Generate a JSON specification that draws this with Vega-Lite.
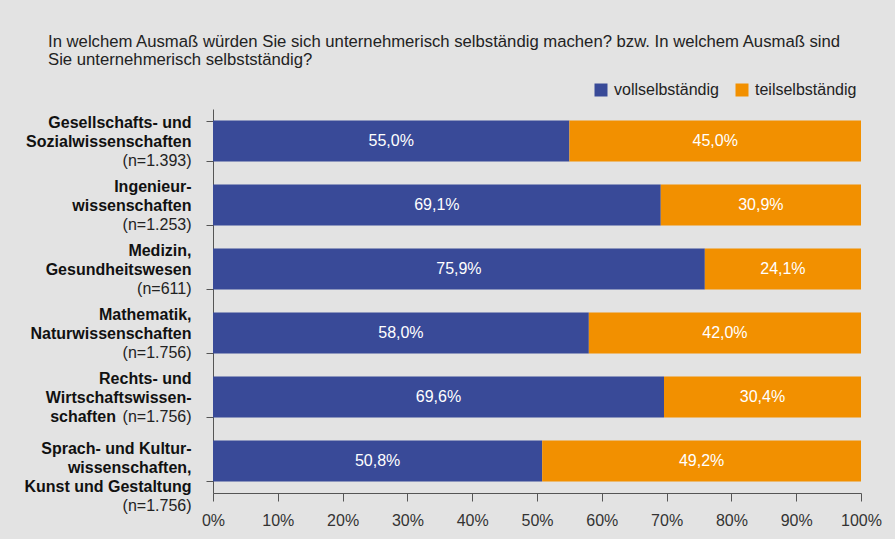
{
  "$schema": "https://vega.github.io/schema/vega-lite/v6.json",
  "width": 648,
  "height": 384,
  "autosize": {"type": "none"},
  "padding": {"left": 213, "top": 109, "right": 34, "bottom": 46},
  "background": "#e3e3e3",
  "config": {
    "font": "Liberation Sans",
    "view": {"stroke": null},
    "locale": {"number": {"decimal": ",", "thousands": ".", "grouping": [3], "currency": ["", " €"]}},
    "axis": {"grid": false, "domainColor": "#555555", "tickColor": "#555555", "labelColor": "#222222", "labelFontSize": 16}
  },
  "title": {
    "text": ["In welchem Ausmaß würden Sie sich unternehmerisch selbständig machen? bzw. In welchem Ausmaß sind", "Sie unternehmerisch selbstständig?"],
    "anchor": "start",
    "frame": "group",
    "dx": -165,
    "fontSize": 16.7,
    "fontWeight": "normal",
    "color": "#222222",
    "lineHeight": 18,
    "offset": 13
  },
  "data": {
    "values": [
      {"cat": "Gesellschafts- und|Sozialwissenschaften#\u200b|\u200b|(n=1.393)", "type": "vollselbständig", "value": 0.550},
      {"cat": "Gesellschafts- und|Sozialwissenschaften#\u200b|\u200b|(n=1.393)", "type": "teilselbständig", "value": 0.450},
      {"cat": "Ingenieur-|wissenschaften#\u200b|\u200b|(n=1.253)", "type": "vollselbständig", "value": 0.691},
      {"cat": "Ingenieur-|wissenschaften#\u200b|\u200b|(n=1.253)", "type": "teilselbständig", "value": 0.309},
      {"cat": "Medizin,|Gesundheitswesen#\u200b|\u200b|(n=611)", "type": "vollselbständig", "value": 0.759},
      {"cat": "Medizin,|Gesundheitswesen#\u200b|\u200b|(n=611)", "type": "teilselbständig", "value": 0.241},
      {"cat": "Mathematik,|Naturwissenschaften#\u200b|\u200b|(n=1.756)", "type": "vollselbständig", "value": 0.580},
      {"cat": "Mathematik,|Naturwissenschaften#\u200b|\u200b|(n=1.756)", "type": "teilselbständig", "value": 0.420},
      {"cat": "Rechts- und|Wirtschaftswissen-|schaften\u00a0\u00a0\u00a0\u00a0\u00a0\u00a0\u00a0\u00a0\u00a0\u00a0\u00a0\u00a0\u00a0\u00a0\u00a0\u00a0\u00a0\u200b#\u200b|\u200b|(n=1.756)", "type": "vollselbständig", "value": 0.696},
      {"cat": "Rechts- und|Wirtschaftswissen-|schaften\u00a0\u00a0\u00a0\u00a0\u00a0\u00a0\u00a0\u00a0\u00a0\u00a0\u00a0\u00a0\u00a0\u00a0\u00a0\u00a0\u00a0\u200b#\u200b|\u200b|(n=1.756)", "type": "teilselbständig", "value": 0.304},
      {"cat": "Sprach- und Kultur-|wissenschaften,|Kunst und Gestaltung#\u200b|\u200b|\u200b|(n=1.756)", "type": "vollselbständig", "value": 0.508},
      {"cat": "Sprach- und Kultur-|wissenschaften,|Kunst und Gestaltung#\u200b|\u200b|\u200b|(n=1.756)", "type": "teilselbständig", "value": 0.492}
    ]
  },
  "layer": [
    {
      "mark": {"type": "bar"},
      "encoding": {
        "y": {
          "field": "cat", "type": "nominal", "sort": null, "title": null,
          "scale": {"paddingInner": 0.36, "paddingOuter": 0.18},
          "axis": {
            "orient": "left",
            "labels": false,
            "tickSize": 7,
            "tickBand": "extent",
            "domainColor": "#555555"
          }
        },
        "x": {
          "field": "value", "type": "quantitative", "stack": "zero", "title": null,
          "scale": {"domain": [0, 1]},
          "axis": {
            "format": ".0%",
            "values": [0, 0.1, 0.2, 0.3, 0.4, 0.5, 0.6, 0.7, 0.8, 0.9, 1],
            "tickSize": 8,
            "labelPadding": 11,
            "labelFontSize": 16,
            "labelColor": "#333333",
            "labelFlush": false,
            "labelBound": false,
            "labelOverlap": false
          }
        },
        "color": {
          "field": "type", "type": "nominal",
          "scale": {"domain": ["vollselbständig", "teilselbständig"], "range": ["#394a98", "#f29000"]},
          "legend": {
            "orient": "none", "legendX": 380, "legendY": -27, "direction": "horizontal",
            "title": null, "symbolType": "square", "symbolSize": 169, "symbolStrokeWidth": 0,
            "labelFontSize": 16, "labelColor": "#222222", "labelOffset": 5, "columnPadding": 15, "padding": 0
          }
        },
        "order": {"field": "type", "sort": "descending"}
      }
    },
    {
      "transform": [{"filter": "datum.type === 'vollselbständig'"}],
      "mark": {"type": "text", "color": "#ffffff", "fontSize": 16, "baseline": "middle", "align": "center"},
      "encoding": {
        "y": {
          "field": "cat", "type": "nominal", "sort": null, "title": null,
          "axis": {
            "orient": "left",
            "labelExpr": "split(split(datum.value,'#')[0],'|')",
            "labelFontWeight": "bold",
            "labelFontSize": 16,
            "labelLineHeight": 19,
            "labelAlign": "right",
            "labelBaseline": "top",
            "labelPadding": 15,
            "labelLimit": 400,
            "labelOverlap": false,
            "labelBound": false,
            "labelColor": "#111111",
            "tickSize": 7,
            "tickOpacity": 0,
            "domain": false,
            "labelOffset": {"condition": {"test": "length(split(split(datum.value,'#')[1],'|')) > 3", "value": -20}, "value": -26}
          }
        },
        "x": {"field": "value", "type": "quantitative", "stack": "zero", "bandPosition": 0.5, "scale": {"domain": [0, 1]}, "axis": null},
        "text": {"field": "value", "type": "quantitative", "format": ".1%"}
      }
    },
    {
      "transform": [{"filter": "datum.type === 'teilselbständig'"}],
      "mark": {"type": "text", "color": "#ffffff", "fontSize": 16, "baseline": "middle", "align": "center"},
      "encoding": {
        "y": {
          "field": "cat", "type": "nominal", "sort": null, "title": null,
          "axis": {
            "orient": "left",
            "labelExpr": "split(split(datum.value,'#')[1],'|')",
            "labelFontWeight": "normal",
            "labelFontSize": 16,
            "labelLineHeight": 19,
            "labelAlign": "right",
            "labelBaseline": "top",
            "labelPadding": 15,
            "labelLimit": 400,
            "labelOverlap": false,
            "labelBound": false,
            "labelColor": "#222222",
            "tickSize": 7,
            "tickOpacity": 0,
            "domain": false,
            "labelOffset": {"condition": {"test": "length(split(split(datum.value,'#')[1],'|')) > 3", "value": -20}, "value": -26}
          }
        },
        "x": {"field": "value", "type": "quantitative", "stack": "zero", "bandPosition": 0.5, "scale": {"domain": [0, 1], "reverse": true}, "axis": null},
        "text": {"field": "value", "type": "quantitative", "format": ".1%"}
      }
    }
  ],
  "resolve": {"axis": {"y": "independent", "x": "independent"}, "scale": {"x": "independent"}}
}
